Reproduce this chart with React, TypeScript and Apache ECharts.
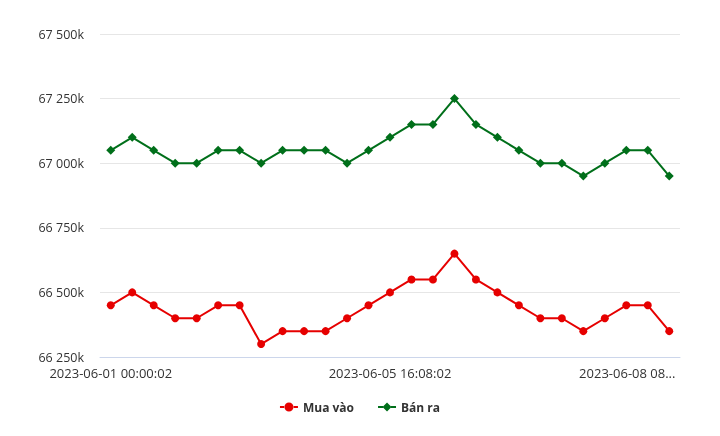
import React, { useEffect, useRef } from "react";
import * as echarts from "echarts";

const categories: string[] = [
  "2023-06-01 00:00:02", "2023-06-01 08:30:02", "2023-06-01 16:08:02",
  "2023-06-02 00:00:02", "2023-06-02 08:30:02", "2023-06-02 16:08:02",
  "2023-06-03 00:00:02", "2023-06-03 08:30:02", "2023-06-03 16:08:02",
  "2023-06-04 00:00:02", "2023-06-04 08:30:02", "2023-06-04 16:08:02",
  "2023-06-05 08:30:02", "2023-06-05 16:08:02", "2023-06-06 00:00:02",
  "2023-06-06 08:30:02", "2023-06-06 11:08:02", "2023-06-06 16:08:02",
  "2023-06-07 00:00:02", "2023-06-07 08:30:02", "2023-06-07 11:08:02",
  "2023-06-07 16:08:02", "2023-06-07 20:08:02", "2023-06-08 00:00:02",
  "2023-06-08 04:08:02", "2023-06-08 06:08:02", "2023-06-08 08:30:02",
];

const muaVao: number[] = [
  66450000, 66500000, 66450000, 66400000, 66400000, 66450000, 66450000,
  66300000, 66350000, 66350000, 66350000, 66400000, 66450000, 66500000,
  66550000, 66550000, 66650000, 66550000, 66500000, 66450000, 66400000,
  66400000, 66350000, 66400000, 66450000, 66450000, 66350000,
];

const banRa: number[] = [
  67050000, 67100000, 67050000, 67000000, 67000000, 67050000, 67050000,
  67000000, 67050000, 67050000, 67050000, 67000000, 67050000, 67100000,
  67150000, 67150000, 67250000, 67150000, 67100000, 67050000, 67000000,
  67000000, 66950000, 67000000, 67050000, 67050000, 66950000,
];

const yMin = 66250000;
const yMax = 67500000;
const yStep = 250000;

const RED = "#e60000";
const GREEN = "#006f1a";

const ICON_CIRCLE =
  "path://M0,3.5 L5,3.5 L5,5.5 L0,5.5 Z M13,3.5 L18,3.5 L18,5.5 L13,5.5 Z M4.5,4.5 A4.5,4.5 0 1 0 13.5,4.5 A4.5,4.5 0 1 0 4.5,4.5 Z";
const ICON_DIAMOND =
  "path://M0,3.5 L5,3.5 L5,5.5 L0,5.5 Z M13,3.5 L18,3.5 L18,5.5 L13,5.5 Z M9,0 L13.5,4.5 L9,9 L4.5,4.5 Z";

function fmtY(v: number): string {
  const k = Math.round(v / 1000);
  return String(k).replace(/\B(?=(\d{3})+(?!\d))/g, " ") + "k";
}

export default function App() {
  const ref = useRef<HTMLDivElement>(null);
  useEffect(() => {
    if (!ref.current) return;
    const chart = echarts.init(ref.current, undefined, { renderer: "svg" });
    const last = categories.length - 1;
    chart.setOption({
      animation: false,
      textStyle: { fontFamily: "Open Sans" },
      grid: { left: 100, right: 40, top: 34, bottom: 79, containLabel: false, outerBoundsMode: "none" },
      xAxis: {
        type: "category",
        data: categories,
        boundaryGap: true,
        axisLine: { lineStyle: { color: "#ccd6eb" } },
        axisTick: { show: false },
        axisLabel: {
          interval: 12,
          color: "#333",
          fontSize: 13,
          lineHeight: 14,
          margin: 9,
          fontFamily: "Open Sans",
          formatter: (val: string, idx: number) =>
            idx === last ? "{r|" + val.slice(0, 13) + "...}" : val,
          rich: {
            r: { fontSize: 13, lineHeight: 14, color: "#333", fontFamily: "Open Sans", padding: [0, 84, 0, 0] },
          },
        },
        splitLine: { show: false },
      },
      yAxis: {
        type: "value",
        min: yMin,
        max: yMax,
        interval: yStep,
        axisLine: { show: false },
        axisTick: { show: false },
        axisLabel: { color: "#333", fontSize: 12.5, lineHeight: 12, margin: 16, formatter: fmtY, fontFamily: "Open Sans" },
        splitLine: { lineStyle: { color: "#e6e6e6" } },
      },
      legend: {
        bottom: 18,
        left: "center",
        itemGap: 24,
        itemWidth: 18,
        itemHeight: 9,
        textStyle: { fontSize: 12, fontWeight: "bold", color: "#333", fontFamily: "Open Sans" },
        data: [
          { name: "Mua vào", icon: ICON_CIRCLE },
          { name: "Bán ra", icon: ICON_DIAMOND },
        ],
      },
      series: [
        {
          name: "Mua vào",
          type: "line",
          data: muaVao,
          symbol: "circle",
          symbolSize: 8,
          lineStyle: { color: RED, width: 2 },
          itemStyle: { color: RED },
          color: RED,
        },
        {
          name: "Bán ra",
          type: "line",
          data: banRa,
          symbol: "diamond",
          symbolSize: 9,
          lineStyle: { color: GREEN, width: 2 },
          itemStyle: { color: GREEN },
          color: GREEN,
        },
      ],
    });
    return () => chart.dispose();
  }, []);
  return <div ref={ref} style={{ width: 720, height: 436, position: "fixed", left: 0, top: 0 }} />;
}
